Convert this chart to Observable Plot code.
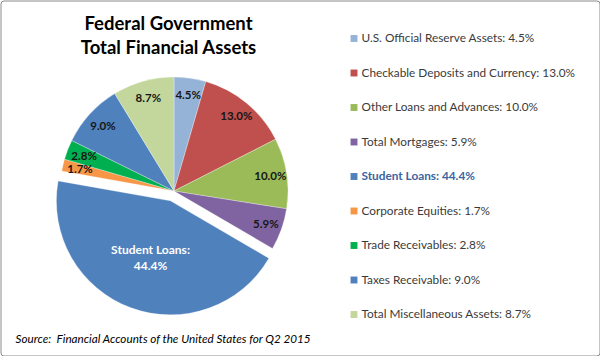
<!DOCTYPE html>
<html>
<head>
<meta charset="utf-8">
<script src="https://cdn.jsdelivr.net/npm/d3@7"></script>
<script src="https://cdn.jsdelivr.net/npm/@observablehq/plot@0.6"></script>
<style>
  html, body { margin: 0; padding: 0; background: #fff; }
  svg { display: block; }
</style>
</head>
<body>
<div id="chart"></div>
<script>
// ---- data ----
const categories = [
  "U.S. Official Reserve Assets",
  "Checkable Deposits and Currency",
  "Other Loans and Advances",
  "Total Mortgages",
  "Student Loans",
  "Corporate Equities",
  "Trade Receivables",
  "Taxes Receivable",
  "Total Miscellaneous Assets"
];
const shares = [4.5, 13.0, 10.0, 5.9, 44.4, 1.7, 2.8, 9.0, 8.7];
const colors = ["#95B3D7", "#C0504D", "#9BBB59", "#8064A2", "#4F81BD", "#F79646", "#00B050", "#4F81BD", "#C3D69B"];
const titleLines = ["Federal Government", "Total Financial Assets"];
const sourceText = "Source:  Financial Accounts of the United States for Q2 2015";
const explodedCategory = "Student Loans";

// ---- layout (pixels) ----
const W = 600, H = 356;
const L = {
  cx: 174, cy: 191, r: 114, explode: 10.5,
  labelR: 97, explodedLabelR: 59,
  legendX: 350, legendY0: 38, legendStep: 34.5,
  titleX: 168, titleY0: 23.5, titleStep: 24
};
const FONT = "Lato, 'Open Sans', sans-serif";

const rows = categories.map((c, i) => ({category: c, share: shares[i], i}));
const slices = d3.pie().sort(null).value(d => d.share)(rows);
const pieLabels = slices.map(s => {
  const m = (s.startAngle + s.endAngle) / 2;
  const ex = s.data.category === explodedCategory;
  const rr = ex ? L.explode + L.explodedLabelR : L.labelR;
  return {
    category: s.data.category,
    x: L.cx + rr * Math.sin(m),
    y: L.cy - rr * Math.cos(m),
    text: ex ? `${s.data.category}:\n${s.data.share.toFixed(1)}%` : `${s.data.share.toFixed(1)}%`,
    exploded: ex
  };
});
const legendRows = rows.map(d => ({...d, label: `${d.category}: ${d.share.toFixed(1)}%`}));

function pieMark(index, scales) {
  const g = d3.create("svg:g");
  const x0 = scales.x(L.cx), y0 = scales.y(L.cy);
  const rad = scales.x(L.cx + L.r) - x0;
  const arc = d3.arc().innerRadius(0).outerRadius(rad);
  g.selectAll("path").data(slices).join("path")
    .attr("transform", d => {
      const off = d.data.category === explodedCategory ? L.explode : 0;
      const m = (d.startAngle + d.endAngle) / 2;
      return `translate(${x0 + off * Math.sin(m)},${y0 - off * Math.cos(m)})`;
    })
    .attr("d", arc)
    .attr("fill", d => scales.color(d.data.category))
    .attr("stroke", "#ffffff")
    .attr("stroke-opacity", 0.5)
    .attr("stroke-width", 0.6);
  return g.node();
}

const chart = Plot.plot({
  width: W,
  height: H,
  margin: 0,
  style: {fontFamily: FONT, background: "#fff"},
  x: {domain: [0, W], range: [0, W], axis: null},
  y: {domain: [0, H], range: [0, H], axis: null},
  color: {type: "ordinal", domain: categories, range: colors},
  marks: [
    Plot.frame({stroke: "#8a8a8a", inset: 0.5, rx: 3}),
    pieMark,
    // pie labels
    Plot.text(pieLabels.filter(d => !d.exploded), {
      x: "x", y: "y", text: "text", fontSize: 11.5, fontWeight: "bold", fill: "#161616"
    }),
    Plot.text(pieLabels.filter(d => d.exploded), {
      x: "x", y: "y", text: "text", fontSize: 12, fontWeight: "bold", fill: "#ffffff", lineHeight: 1.3
    }),
    // title
    Plot.text(titleLines, {
      x: () => L.titleX, y: (d, i) => L.titleY0 + i * L.titleStep, text: d => d,
      fontSize: 18.5, fontWeight: "bold", fill: "#000"
    }),
    // legend swatches
    Plot.dot(legendRows, {
      x: () => L.legendX + 3.5, y: d => L.legendY0 + d.i * L.legendStep,
      symbol: "square", r: 3.9, fill: "category"
    }),
    // legend labels
    Plot.text(legendRows.filter(d => d.category !== explodedCategory), {
      x: () => L.legendX + 11, y: d => L.legendY0 + d.i * L.legendStep, text: "label",
      textAnchor: "start", fontSize: 11.8, fill: "#3a3a3a"
    }),
    Plot.text(legendRows.filter(d => d.category === explodedCategory), {
      x: () => L.legendX + 11, y: d => L.legendY0 + d.i * L.legendStep, text: "label",
      textAnchor: "start", fontSize: 11.8, fontWeight: "bold", fill: "#3B64A0"
    }),
    // source
    Plot.text([sourceText], {
      x: () => 15, y: () => 339, text: d => d, textAnchor: "start",
      fontSize: 11.7, fontStyle: "italic", fill: "#000"
    })
  ]
});
document.getElementById("chart").append(chart);
</script>
</body>
</html>
